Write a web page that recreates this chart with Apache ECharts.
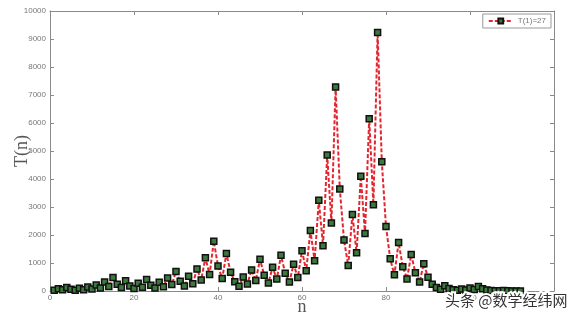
<!DOCTYPE html>
<html><head><meta charset="utf-8">
<script src="https://cdn.jsdelivr.net/npm/echarts@6/dist/echarts.min.js"></script>
<style>html,body{margin:0;padding:0;background:#fff}#c{width:570px;height:317px}</style>
</head><body><div id="c"></div>
<script>
// Collatz sequence from T(1)=27
const nValues = Array.from({length:112},(_, i)=>i+1);
const tValues = [27,82,41,124,62,31,94,47,142,71,214,107,322,161,484,242,121,364,182,91,274,137,412,206,103,310,155,466,233,700,350,175,526,263,790,395,1186,593,1780,890,445,1336,668,334,167,502,251,754,377,1132,566,283,850,425,1276,638,319,958,479,1438,719,2158,1079,3238,1619,4858,2429,7288,3644,1822,911,2734,1367,4102,2051,6154,3077,9232,4616,2308,1154,577,1732,866,433,1300,650,325,976,488,244,122,61,184,92,46,23,70,35,106,53,160,80,40,20,10,5,16,8,4,2,1];
const seriesName = 'T(1)=27';
const xTicks = [0,20,40,60,80,100,120];
const yTicks = [0,1000,2000,3000,4000,5000,6000,7000,8000,9000,10000];

const data = nValues.map((n,i)=>[n,tValues[i]]);
const chart = echarts.init(document.getElementById('c'));
const axisCol = '#8a8a8a';
const lab = {color:'#777', fontSize:8, fontFamily:'Liberation Sans'};
chart.setOption({
  animation:false,
  grid:{left:50,right:16,top:11,bottom:26,containLabel:false,outerBoundsMode:'none'},
  legend:{data:[seriesName], right:19, top:14, orient:'horizontal',
    borderColor:'#999', borderWidth:1, padding:[3,5], itemWidth:24, itemHeight:6, itemGap:4,
    textStyle:{fontSize:8,color:'#777',fontFamily:'Liberation Sans'}},
  xAxis:[{type:'value', min:0, max:120, interval:20,
    name:'n', nameLocation:'middle', nameGap:7, nameMoveOverlap:false,
    nameTextStyle:{fontFamily:'Liberation Serif',fontSize:18,color:'#555'},
    axisLine:{onZero:false,lineStyle:{color:axisCol}}, axisTick:{inside:true,length:4,lineStyle:{color:axisCol}},
    axisLabel:Object.assign({margin:3, formatter:v=>xTicks.includes(v)?String(v):''},lab), splitLine:{show:false}},
    {type:'value', position:'top', min:0, max:120, interval:20,
    axisLine:{show:true,onZero:false,lineStyle:{color:axisCol}}, axisTick:{inside:true,length:4,lineStyle:{color:axisCol}},
    axisLabel:{show:false}, splitLine:{show:false}}],
  yAxis:[{type:'value', min:0, max:10000, interval:1000,
    name:'T(n)', nameLocation:'middle', nameGap:19, nameRotate:90, nameMoveOverlap:false,
    nameTextStyle:{fontFamily:'Liberation Serif',fontSize:18,color:'#555'},
    axisLine:{show:true,onZero:false,lineStyle:{color:axisCol}}, axisTick:{show:true,inside:true,length:4,lineStyle:{color:axisCol}},
    axisLabel:Object.assign({margin:4, formatter:v=>yTicks.includes(v)?String(v):''},lab), splitLine:{show:false}},
    {type:'value', position:'right', min:0, max:10000, interval:1000,
    axisLine:{show:true,onZero:false,lineStyle:{color:axisCol}}, axisTick:{show:true,inside:true,length:4,lineStyle:{color:axisCol}},
    axisLabel:{show:false}, splitLine:{show:false}}],
  series:[{name:seriesName, type:'line', data:data, symbol:'rect', symbolSize:6,
    lineStyle:{color:'#e3262e', width:2, type:[4,2]},
    itemStyle:{color:'#3c7a3c', borderColor:'#111', borderWidth:1.5},
    z:3}],
  graphic:[{type:'text', left:443, top:291, z:100,
    style:{text:'头条 @数学经纬网', fontSize:15, fontFamily:'Noto Sans CJK SC', fill:'#333',
      stroke:'#fff', lineWidth:4}}]
});
</script></body></html>
